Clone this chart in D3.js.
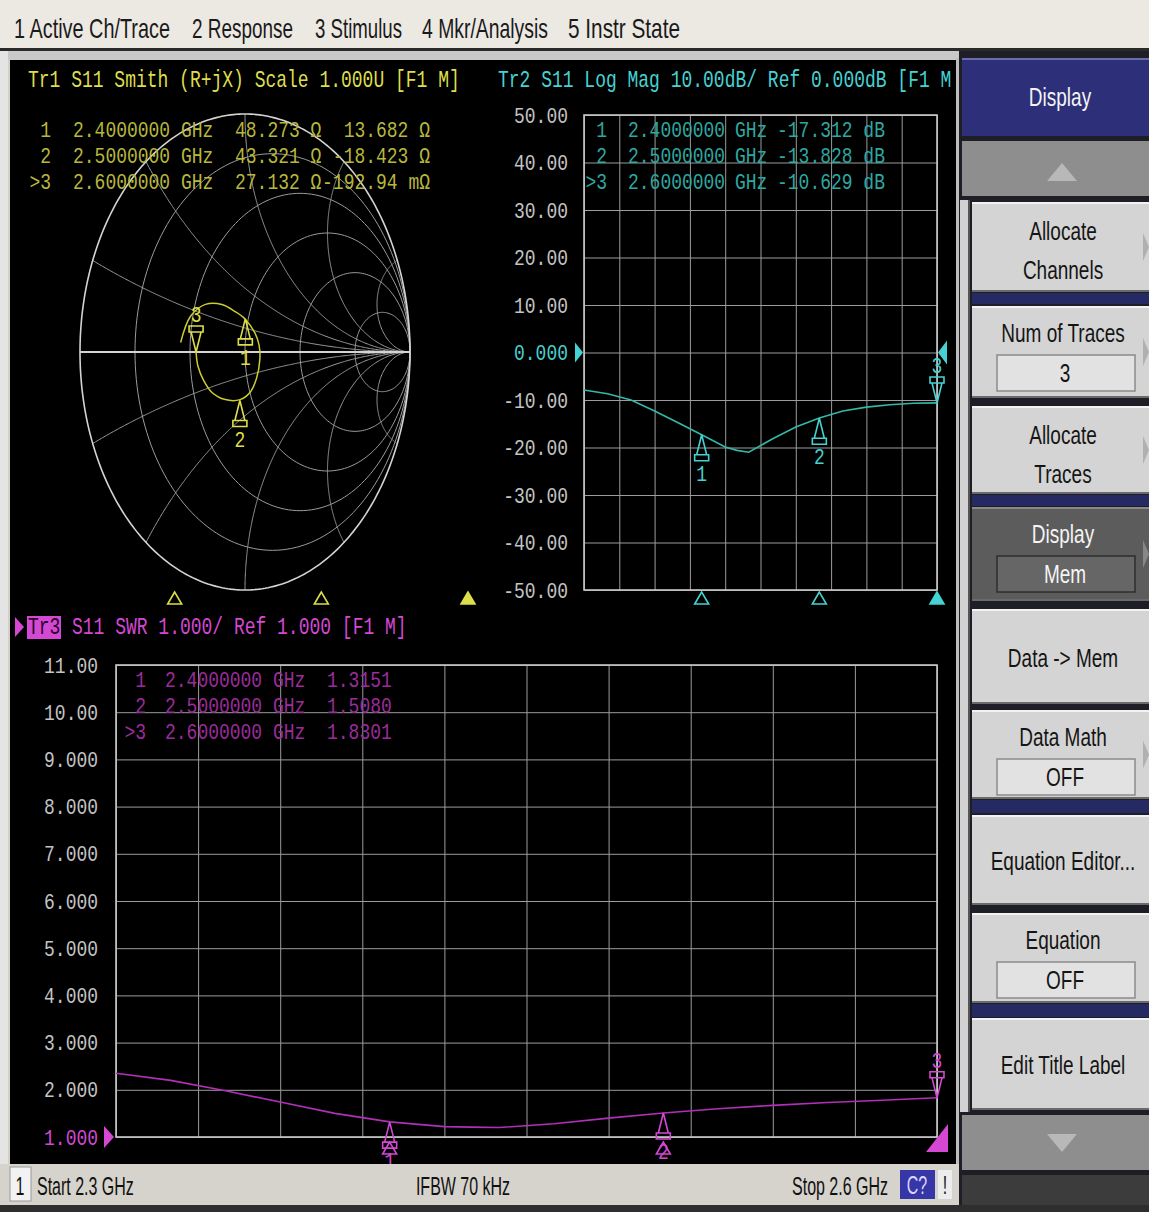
<!DOCTYPE html>
<html>
<head>
<meta charset="utf-8">
<script src="https://cdn.jsdelivr.net/npm/d3@7"></script>
<style>
  body { margin: 0; background: #d4d0c8; }
  svg { display: block; }
  text { white-space: pre; }
</style>
</head>
<body>
<div id="chart"></div>
<script>
// values

const freqs = [2.30, 2.32, 2.34, 2.36, 2.38, 2.40, 2.42, 2.43, 2.44, 2.46, 2.48, 2.50, 2.52, 2.54, 2.56, 2.58, 2.60]

// Tr1 Smith trace (reflection coefficient, real / imag)
const smithRe = [-0.39, -0.33, -0.24, -0.14, -0.06, 0.00, 0.06, 0.085, 0.09, 0.07, 0.03, -0.03, -0.12, -0.20, -0.25, -0.285, -0.2965]
const smithIm = [0.04, 0.15, 0.20, 0.20, 0.17, 0.139, 0.08, 0.03, -0.03, -0.11, -0.17, -0.20, -0.20, -0.17, -0.12, -0.06, 0.0]

// Tr2 log mag (dB)
const logMagDb = [-7.9, -8.7, -10.0, -12.3, -14.8, -17.3, -19.9, -20.6, -21.0, -18.2, -15.7, -13.8, -12.3, -11.5, -11.0, -10.7, -10.6]

// Tr3 SWR
const swrValues = [2.35, 2.20, 1.98, 1.74, 1.50, 1.32, 1.22, 1.21, 1.20, 1.28, 1.40, 1.51, 1.60, 1.67, 1.73, 1.78, 1.83]

// markers
const markerFreqs = [2.4, 2.5, 2.6]
const markerGammaRe = [0.002, -0.031, -0.2965]
const markerGammaIm = [0.139, -0.204, 0.0]
const markerDb = [-17.312, -13.828, -10.629]
const markerSwr = [1.3151, 1.5080, 1.8301]

const smithReadout = [
	['1', '2.4000000', 'GHz', '48.273 Ω', '13.682 Ω'],
	['2', '2.5000000', 'GHz', '43.321 Ω', '-18.423 Ω'],
	['>3', '2.6000000', 'GHz', '27.132 Ω', '-192.94 mΩ'],
]
const logMagReadout = [
	['1', '2.4000000', 'GHz', '-17.312 dB'],
	['2', '2.5000000', 'GHz', '-13.828 dB'],
	['>3', '2.6000000', 'GHz', '-10.629 dB'],
]
const swrReadout = [
	['1', '2.4000000', 'GHz', '1.3151'],
	['2', '2.5000000', 'GHz', '1.5080'],
	['>3', '2.6000000', 'GHz', '1.8301'],
]

const logMagTicks = [50, 40, 30, 20, 10, 0, -10, -20, -30, -40, -50]
const swrTicks = [11, 10, 9, 8, 7, 6, 5, 4, 3, 2, 1]
const freqGrid = [2.30, 2.33, 2.36, 2.39, 2.42, 2.45, 2.48, 2.51, 2.54, 2.57, 2.60]
const smithGridR = [0.2, 0.5, 1, 2, 5]
const smithGridX = [0.2, 0.5, 1, 2, 5, -0.2, -0.5, -1, -2, -5]

const titles = {
	smith: 'Tr1 S11 Smith (R+jX) Scale 1.000U [F1 M]',
	logmag: 'Tr2 S11 Log Mag 10.00dB/ Ref 0.000dB [F1 M',
	swr: 'S11 SWR 1.000/ Ref 1.000 [F1 M]',
}
const menuItems = ['1 Active Ch/Trace', '2 Response', '3 Stimulus', '4 Mkr/Analysis', '5 Instr State']
const softkeys = [
	{ lines: ['Allocate', 'Channels'], sub: true },
	{ lines: ['Num of Traces'], value: '3', sub: true },
	{ lines: ['Allocate', 'Traces'], sub: true },
	{ lines: ['Display'], value: 'Mem', active: true, sub: true },
	{ lines: ['Data -> Mem'] },
	{ lines: ['Data Math'], value: 'OFF', sub: true },
	{ lines: ['Equation Editor...'] },
	{ lines: ['Equation'], value: 'OFF' },
	{ lines: ['Edit Title Label'] },
]
const statusTexts = ['Start 2.3 GHz', 'IFBW 70 kHz', 'Stop 2.6 GHz']

// drawing

const W = 1149
const H = 1212
const SY = 1.22
const MONO = '"Liberation Mono", "DejaVu Sans Mono", monospace'
const SANS = '"Liberation Sans", Arial, sans-serif'

const YELLOW = '#dede4a'
const YELLOW_DIM = '#b8b83c'
const CYAN = '#46d2d2'
const CYAN_DIM = '#2ea8a0'
const MAGENTA = '#d448d4'
const MAGENTA_DIM = '#9c2c9c'
const GRID = '#9c9c9c'
const FRAME = '#c8c8c8'
const TICK = '#c4c4c4'

const svg = d3
	.select('#chart')
	.append('svg')
	.attr('width', W)
	.attr('height', H)

function txt(g, s, x, y, o = {}) {
	return g
		.append('text')
		.attr('transform', `translate(${x},${y}) scale(1,${o.sy || SY})`)
		.attr('font-family', o.family || MONO)
		.attr('font-size', o.size || 18)
		.attr('fill', o.fill || TICK)
		.attr('text-anchor', o.anchor || 'start')
		.text(s)
}

// window chrome
svg.append('rect').attr('width', W).attr('height', H).attr('fill', '#d4d0c8')
svg.append('rect').attr('width', W).attr('height', 48).attr('fill', '#ece9e3')
svg.append('rect').attr('y', 48).attr('width', W).attr('height', 3).attr('fill', '#2a2a2a')
svg.append('rect').attr('y', 51).attr('width', 960).attr('height', 9).attr('fill', '#c9c9c9')
svg.append('rect').attr('x', 0).attr('y', 51).attr('width', 8).attr('height', 1120).attr('fill', '#e4e4e4')

const menuLayout = [[14, 156], [192, 101], [315, 87], [422, 126], [568, 112]]
menuItems.forEach((m, i) => {
	txt(svg, m, menuLayout[i][0], 38, { family: SANS, size: 20, fill: '#1a1a1a', sy: 1.35 })
		.attr('textLength', menuLayout[i][1])
		.attr('lengthAdjust', 'spacingAndGlyphs')
})

// black measurement area
svg.append('rect').attr('x', 10).attr('y', 60).attr('width', 948).attr('height', 1104).attr('fill', '#000')
svg.append('rect').attr('x', 956).attr('y', 58).attr('width', 3).attr('height', 1108).attr('fill', '#bdbdbd')

// ---------------- Smith chart ----------------
const smith = svg.append('g')
const sx = d3.scaleLinear().domain([-1, 1]).range([80, 410])
const sy = d3.scaleLinear().domain([-1, 1]).range([590, 114])
const gammaLine = d3.line().x((p) => sx(p[0])).y((p) => sy(p[1]))
const toGamma = (r, x) => {
	const d = (r + 1) * (r + 1) + x * x
	return [(r * r + x * x - 1) / d, (2 * x) / d]
}

const smithGrid = smith.append('g').attr('fill', 'none').attr('stroke', GRID).attr('stroke-width', 1)
smithGridR.forEach((r) => {
	const c = r / (1 + r)
	const rad = 1 / (1 + r)
	const pts = d3.range(0, 361, 2).map((a) => [c + rad * Math.cos((a * Math.PI) / 180), rad * Math.sin((a * Math.PI) / 180)])
	smithGrid.append('path').attr('d', gammaLine(pts))
})
smithGridX.forEach((x) => {
	const pts = d3.range(0, 1.5705, 0.005).map((t) => toGamma(Math.tan(t), x))
	smithGrid.append('path').attr('d', gammaLine(pts))
})
smith
	.append('path')
	.attr('d', gammaLine(d3.range(0, 361, 1).map((a) => [Math.cos((a * Math.PI) / 180), Math.sin((a * Math.PI) / 180)])))
	.attr('fill', 'none')
	.attr('stroke', '#d4d4d4')
	.attr('stroke-width', 1.6)
smith
	.append('line')
	.attr('x1', sx(-1)).attr('x2', sx(1))
	.attr('y1', sy(0)).attr('y2', sy(0))
	.attr('stroke', '#d4d4d4')
	.attr('stroke-width', 2)

smith
	.append('path')
	.datum(freqs.map((f, i) => [smithRe[i], smithIm[i]]))
	.attr('d', gammaLine.curve(d3.curveCatmullRom))
	.attr('fill', 'none')
	.attr('stroke', '#cccc30')
	.attr('stroke-width', 1.5)
gammaLine.curve(d3.curveLinear)

txt(smith, titles.smith, 28, 87, { fill: YELLOW, sy: 1.3 })
smithReadout.forEach((row, i) => {
	const y = 137 + i * 26
	txt(smith, row[0], 51, y, { fill: YELLOW_DIM, anchor: 'end' })
	txt(smith, row[1], 73, y, { fill: YELLOW_DIM })
	txt(smith, row[2], 181, y, { fill: YELLOW_DIM })
	txt(smith, row[3], 235, y, { fill: YELLOW_DIM })
	txt(smith, row[4], 430, y, { fill: YELLOW_DIM, anchor: 'end' })
})

// marker glyph: tip on the trace, body below (up) or above (down)
function markerGlyph(g, x, y, num, up, color) {
	const d = up ? 1 : -1
	g.append('path')
		.attr('d', `M${x},${y} L${x - 5},${y + d * 20} L${x + 5},${y + d * 20} Z M${x - 7},${y + d * 20} L${x + 7},${y + d * 20} L${x + 7},${y + d * 26} L${x - 7},${y + d * 26} Z`)
		.attr('fill', 'none')
		.attr('stroke', color)
		.attr('stroke-width', 1.6)
	txt(g, num, x, up ? y + 46 : y - 30, { fill: color, anchor: 'middle' })
}
function bottomTri(g, x, y, color, filled) {
	g.append('path')
		.attr('d', `M${x},${y} L${x - 7},${y + 12} L${x + 7},${y + 12} Z`)
		.attr('fill', filled ? color : 'none')
		.attr('stroke', color)
		.attr('stroke-width', 1.6)
}

const smFreqX = d3.scaleLinear().domain([2.3, 2.6]).range([28, 468])
markerFreqs.forEach((f, i) => {
	markerGlyph(smith, sx(markerGammaRe[i]), sy(markerGammaIm[i]), String(i + 1), i < 2, YELLOW)
	bottomTri(smith, smFreqX(f), 592, YELLOW, i === 2)
})

// ---------------- Log Mag ----------------
const lm = svg.append('g')
const xLm = d3.scaleLinear().domain([2.3, 2.6]).range([584, 937])
const yLm = d3.scaleLinear().domain([-50, 50]).range([590, 115])

function gridAxes(g, x, y, yTicks, fmt, pad) {
	const [x0, x1] = x.range()
	const [y0, y1] = y.range()
	const gy = g.append('g').attr('transform', `translate(${x0},0)`)
		.call(d3.axisLeft(y).tickValues(yTicks).tickSize(-(x1 - x0)).tickFormat(''))
	const gx = g.append('g').attr('transform', `translate(0,${y0})`)
		.call(d3.axisBottom(x).tickValues(freqGrid).tickSize(-(y0 - y1)).tickFormat(''))
	;[gy, gx].forEach((a) => {
		a.select('.domain').remove()
		a.selectAll('line').attr('stroke', GRID).attr('stroke-width', 1)
	})
	g.append('rect')
		.attr('x', x0).attr('y', y1).attr('width', x1 - x0).attr('height', y0 - y1)
		.attr('fill', 'none').attr('stroke', FRAME).attr('stroke-width', 1.6)
	const lab = g.append('g').attr('transform', `translate(${x0},0)`)
		.call(d3.axisLeft(y).tickValues(yTicks).tickSize(0).tickPadding(pad).tickFormat(fmt))
	lab.select('.domain').remove()
	lab.selectAll('text')
		.attr('font-family', MONO)
		.attr('font-size', 18)
		.attr('fill', TICK)
		.attr('transform', `scale(1,${SY})`)
	return lab
}

const lmLab = gridAxes(lm, xLm, yLm, logMagTicks, (d) => (d === 0 ? '0.000' : d.toFixed(2)), 16)
lmLab.selectAll('text').filter((d) => d === 0).attr('fill', CYAN)

lm.append('path')
	.datum(freqs.map((f, i) => ({ f, v: logMagDb[i] })))
	.attr('d', d3.line().x((d) => xLm(d.f)).y((d) => yLm(d.v)))
	.attr('fill', 'none')
	.attr('stroke', '#34b8a8')
	.attr('stroke-width', 1.6)

txt(lm, titles.logmag, 498, 87, { fill: CYAN, sy: 1.3 })
logMagReadout.forEach((row, i) => {
	const y = 137 + i * 26
	txt(lm, row[0], 607, y, { fill: CYAN_DIM, anchor: 'end' })
	txt(lm, row[1], 628, y, { fill: CYAN_DIM })
	txt(lm, row[2], 735, y, { fill: CYAN_DIM })
	txt(lm, row[3], 777, y, { fill: CYAN_DIM })
})

// reference pointers
lm.append('path').attr('d', `M575,${yLm(0) - 10} L583,${yLm(0)} L575,${yLm(0) + 10} Z`).attr('fill', CYAN)
lm.append('path').attr('d', `M947,${yLm(0) - 12} L938,${yLm(0)} L947,${yLm(0) + 12} Z`).attr('fill', CYAN)

markerFreqs.forEach((f, i) => {
	markerGlyph(lm, xLm(f), yLm(markerDb[i]), String(i + 1), i < 2, CYAN)
	bottomTri(lm, xLm(f), 592, CYAN, i === 2)
})

// ---------------- SWR ----------------
const sw = svg.append('g')
const xS = d3.scaleLinear().domain([2.3, 2.6]).range([116, 937])
const yS = d3.scaleLinear().domain([1, 11]).range([1137, 665])

const swLab = gridAxes(sw, xS, yS, swrTicks, (d) => (d >= 10 ? d.toFixed(2) : d.toFixed(3)), 18)
swLab.selectAll('text').filter((d) => d === 1).attr('fill', MAGENTA)

sw.append('path')
	.datum(freqs.map((f, i) => ({ f, v: swrValues[i] })))
	.attr('d', d3.line().x((d) => xS(d.f)).y((d) => yS(d.v)))
	.attr('fill', 'none')
	.attr('stroke', '#b030b8')
	.attr('stroke-width', 1.6)

// active trace title
sw.append('path').attr('d', 'M15,617 L24,627 L15,637 Z').attr('fill', MAGENTA)
sw.append('rect').attr('x', 27).attr('y', 616).attr('width', 34).attr('height', 23).attr('fill', MAGENTA)
txt(sw, 'Tr3', 28, 634, { fill: '#2a002a', sy: 1.3 })
txt(sw, titles.swr, 72, 634, { fill: MAGENTA, sy: 1.3 })
swrReadout.forEach((row, i) => {
	const y = 687 + i * 26
	txt(sw, row[0], 146, y, { fill: MAGENTA_DIM, anchor: 'end' })
	txt(sw, row[1], 165, y, { fill: MAGENTA_DIM })
	txt(sw, row[2], 273, y, { fill: MAGENTA_DIM })
	txt(sw, row[3], 327, y, { fill: MAGENTA_DIM })
})

sw.append('path').attr('d', `M104,${yS(1) - 11} L114,${yS(1)} L104,${yS(1) + 11} Z`).attr('fill', MAGENTA)
sw.append('path').attr('d', 'M948,1124 L948,1152 L926,1152 Z').attr('fill', MAGENTA)
markerFreqs.forEach((f, i) => {
	markerGlyph(sw, xS(f), yS(markerSwr[i]), String(i + 1), i < 2, MAGENTA)
	if (i < 2) bottomTri(sw, xS(f), 1142, MAGENTA, false)
})

// ---------------- status bar ----------------
const st = svg.append('g')
st.append('rect').attr('x', 0).attr('y', 1164).attr('width', 960).attr('height', 42).attr('fill', '#d6d3cc')
st.append('rect').attr('x', 0).attr('y', 1205).attr('width', W).attr('height', 7).attr('fill', '#2e2e2e')
st.append('rect').attr('x', 10).attr('y', 1167).attr('width', 21).attr('height', 34).attr('fill', '#f2f2f2').attr('stroke', '#9a9a9a')
txt(st, '1', 20, 1195, { family: SANS, size: 16, fill: '#111', anchor: 'middle', sy: 1.6 })
const statusX = [[37, 'start'], [463, 'middle'], [888, 'end']]
statusTexts.forEach((s, i) => {
	txt(st, s, statusX[i][0], 1195, { family: SANS, size: 16, fill: '#111', anchor: statusX[i][1], sy: 1.6 })
})
st.append('rect').attr('x', 900).attr('y', 1170).attr('width', 35).attr('height', 29).attr('fill', '#3636a6')
txt(st, 'C?', 917, 1194, { family: SANS, size: 16, fill: '#d8d8ff', anchor: 'middle', sy: 1.6 })
st.append('rect').attr('x', 938).attr('y', 1170).attr('width', 14).attr('height', 29).attr('fill', '#ececec')
txt(st, '!', 945, 1194, { family: SANS, size: 16, fill: '#111', anchor: 'middle', sy: 1.6 })

// ---------------- softkey panel ----------------
const sk = svg.append('g')
sk.append('rect').attr('x', 959).attr('y', 51).attr('width', W - 959).attr('height', 1154).attr('fill', '#1e1e26')
sk.append('rect').attr('x', 962).attr('y', 58).attr('width', 187).attr('height', 78).attr('fill', '#2d2f78')
sk.append('rect').attr('x', 962).attr('y', 58).attr('width', 187).attr('height', 2).attr('fill', '#6a6cb0')
txt(sk, 'Display', 1060, 106, { family: SANS, size: 19, fill: '#f4f4f4', anchor: 'middle', sy: 1.4 })

sk.append('rect').attr('x', 962).attr('y', 141).attr('width', 187).attr('height', 55).attr('fill', '#8e8e8e')
sk.append('path').attr('d', 'M1047,181 L1077,181 L1062,163 Z').attr('fill', '#b8b8b8')
sk.append('rect').attr('x', 962).attr('y', 1115).attr('width', 187).attr('height', 55).attr('fill', '#8e8e8e')
sk.append('path').attr('d', 'M1047,1134 L1077,1134 L1062,1152 Z').attr('fill', '#b8b8b8')
sk.append('rect').attr('x', 962).attr('y', 1175).attr('width', 187).attr('height', 30).attr('fill', '#3c3c3c')

// scroll strip
sk.append('rect').attr('x', 960).attr('y', 200).attr('width', 10).attr('height', 912).attr('fill', '#d2d2d2')
sk.append('rect').attr('x', 968).attr('y', 200).attr('width', 2).attr('height', 912).attr('fill', '#555')

const navySeps = [[293, 304], [495, 506], [800, 813], [1004, 1017]]
navySeps.forEach(([a, b]) => {
	sk.append('rect').attr('x', 972).attr('y', a).attr('width', 177).attr('height', b - a).attr('fill', '#262a62')
})

const keyBoxes = [[202, 292], [306, 398], [406, 494], [507, 601], [609, 704], [710, 799], [815, 905], [913, 1003], [1018, 1110]]
softkeys.forEach((k, i) => {
	const [top, bot] = keyBoxes[i]
	const fill = k.active ? '#5c5c5c' : '#d4d4d4'
	const ink = k.active ? '#f4f4f4' : '#151515'
	sk.append('rect').attr('x', 972).attr('y', top).attr('width', 177).attr('height', bot - top).attr('fill', fill)
	sk.append('rect').attr('x', 972).attr('y', top).attr('width', 177).attr('height', 2).attr('fill', k.active ? '#8a8a8a' : '#f2f2f2')
	sk.append('rect').attr('x', 972).attr('y', bot - 2).attr('width', 177).attr('height', 2).attr('fill', '#6a6a6a')
	const o = { family: SANS, size: 19, fill: ink, anchor: 'middle', sy: 1.4 }
	if (k.value) {
		txt(sk, k.lines[0], 1063, top + 36, o)
		sk.append('rect').attr('x', 997).attr('y', top + 49).attr('width', 138).attr('height', 36)
			.attr('fill', k.active ? '#666' : '#e2e2e2').attr('stroke', k.active ? '#2e2e2e' : '#8a8a8a').attr('stroke-width', 1.5)
		txt(sk, k.value, 1065, top + 76, o)
	} else if (k.lines.length === 2) {
		txt(sk, k.lines[0], 1063, top + 38, o)
		txt(sk, k.lines[1], 1063, top + 77, o)
	} else {
		txt(sk, k.lines[0], 1063, (top + bot) / 2 + 10, o)
	}
	if (k.sub) {
		const m = (top + bot) / 2
		sk.append('path').attr('d', `M1143,${m - 14} L1149,${m} L1143,${m + 14} Z`).attr('fill', k.active ? '#888' : '#b0b0b0')
	}
})
</script>
</body>
</html>
